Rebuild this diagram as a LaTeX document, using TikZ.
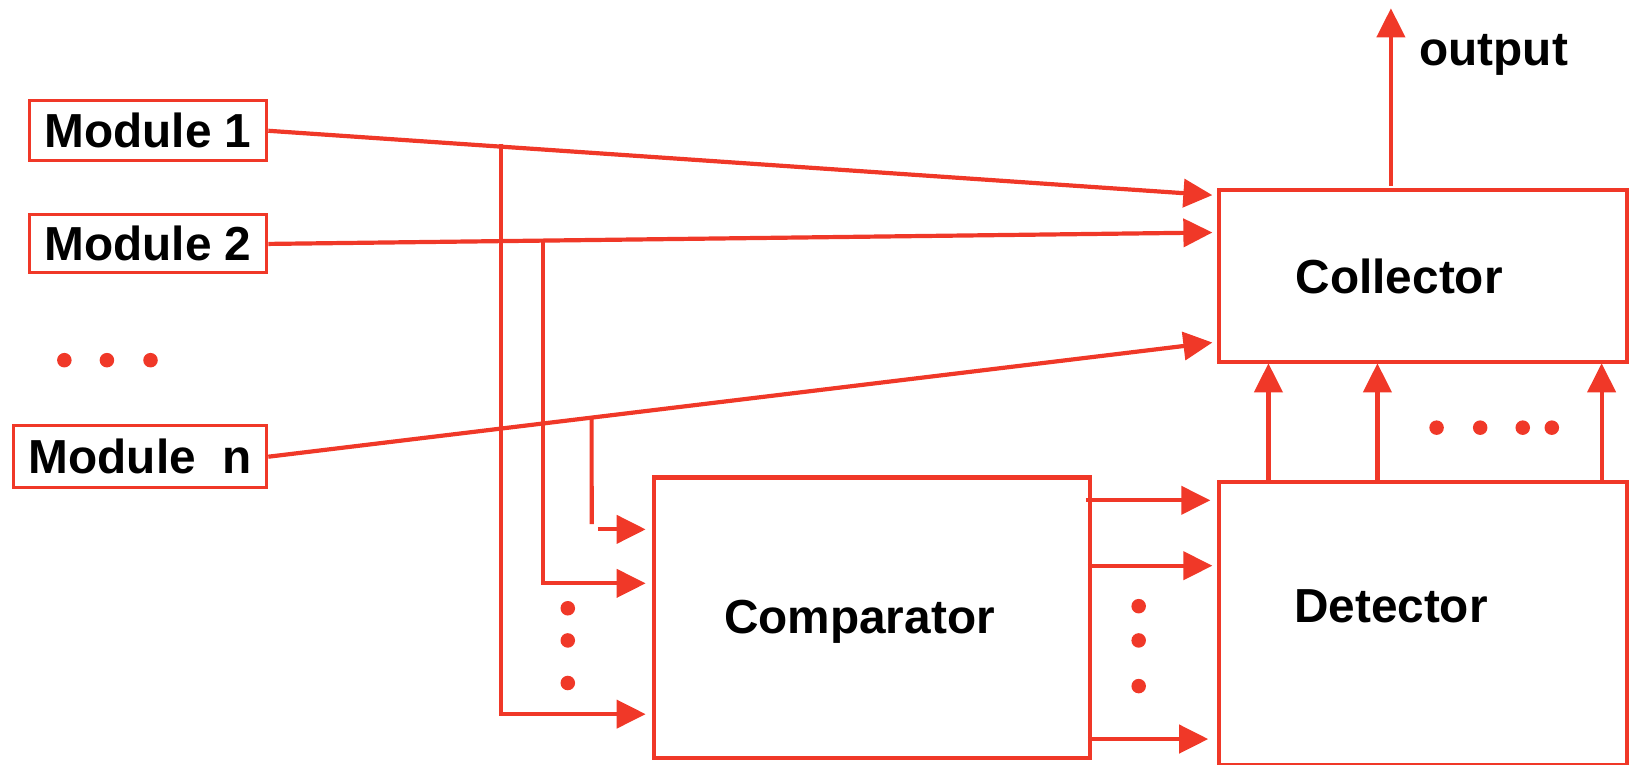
\documentclass[tikz,border=0pt]{standalone}
\usepackage{fontspec}
\setmainfont{Liberation Sans}
\usetikzlibrary{arrows.meta,calc}
\definecolor{rd}{RGB}{240,56,40}
\begin{document}
\begin{tikzpicture}[x=1.038pt,y=-1.038pt,
  every node/.append style={scale=1.038},
  box/.style={draw=rd, line width=4.2pt, inner sep=0pt, anchor=north west},
  modbox/.style={draw=rd, line width=3pt, inner sep=0pt, font=\bfseries\fontsize{46}{54}\selectfont},
  lbl/.style={inner sep=0pt, font=\bfseries\fontsize{46}{54}\selectfont, anchor=base},
  conn/.style={draw=rd, line width=4.2pt},
  arr/.style={conn, -{Triangle[length=29pt,width=28pt]}},
  bigdot/.style={fill=rd, circle, inner sep=0pt, minimum size=14pt}]
\useasboundingbox (0,0) rectangle (1571.3,737);

% module boxes
\node[modbox, minimum width=229pt, minimum height=58pt] (m1) at (142.5,126) {Module 1};
\node[modbox, minimum width=229pt, minimum height=56pt] (m2) at (142.5,235) {Module 2};
\node[modbox, minimum width=244pt, minimum height=60pt] (mn) at (135,440) {Module\ \ n};

% left dots
\node[bigdot] (ld1) at (62,347) {};
\node[bigdot] (ld2) at (103,347) {};
\node[bigdot] (ld3) at (145,347) {};

% main boxes
\node[box, minimum width=393pt, minimum height=166pt] (col) at (1172,181) {};
\node[box, minimum width=420pt, minimum height=270pt] (cmp) at (628,458) {};
\node[box, minimum width=393pt, minimum height=273pt] (det) at (1172,462) {};

% labels
\node[lbl] (coltxt) at (1348,283) {Collector};
\node[lbl] (cmptxt) at (828,610) {Comparator};
\node[lbl] (dettxt) at (1340,600) {Detector};
\node[lbl] (outtxt) at (1439,63) {output};

% collector inputs
\coordinate (c1) at (1168,188);
\coordinate (c2) at (1168,224);
\coordinate (c3) at (1168,330);
\coordinate (m1e) at (m1.east);
\coordinate (m2e) at (m2.east);
\coordinate (mne) at (mn.east);
\draw[arr] (m1e) -- (c1);
\draw[arr] (m2e) -- (c2);
\draw[arr] (mne) -- (c3);

% branch points
\coordinate (v1t) at (483,0);   \coordinate (v1b) at (483,760);
\coordinate (v2t) at (523,0);   \coordinate (v2b) at (523,760);
\coordinate (v3t) at (570,0);   \coordinate (v3b) at (570,760);
\coordinate (b1) at (intersection of m1e--c1 and v1t--v1b);
\coordinate (b2) at (intersection of m2e--c2 and v2t--v2b);
\coordinate (b3) at (intersection of mne--c3 and v3t--v3b);

% comparator inputs
\coordinate (ci1) at (622,510);
\coordinate (ci2) at (622,562);
\coordinate (ci3) at (622,688);
\coordinate (v3e) at (570,505);
\coordinate (h3s) at (576,510);
\draw[arr] ($(b1)+(0,-3)$) |- (ci3);
\draw[arr] (b2) |- (ci2);
\draw[conn] (b3) -- (v3e);
\draw[arr] (h3s) -- (ci1);

\node[bigdot] (id1) at (547,586) {};
\node[bigdot] (id2) at (547,617) {};
\node[bigdot] (id3) at (547,658) {};

% comparator -> detector
\coordinate (co1) at (1046,482); \coordinate (di1) at (1166,482);
\coordinate (co2) at (1048,545); \coordinate (di2) at (1168,545);
\coordinate (co3) at (1048,712); \coordinate (di3) at (1164,712);
\draw[arr] (co1) -- (di1);
\draw[arr] (co2) -- (di2);
\draw[arr] (co3) -- (di3);

\node[bigdot] (od1) at (1097,584) {};
\node[bigdot] (od2) at (1097,617) {};
\node[bigdot] (od3) at (1097,661) {};

% detector -> collector
\coordinate (du1) at (1222,462); \coordinate (cu1) at (1222,350);
\coordinate (du2) at (1327,462); \coordinate (cu2) at (1327,350);
\coordinate (du3) at (1543,462); \coordinate (cu3) at (1543,350);
\draw[arr] (du1) -- (cu1);
\draw[arr] (du2) -- (cu2);
\draw[arr] (du3) -- (cu3);

\node[bigdot] (rd1) at (1384,412) {};
\node[bigdot] (rd2) at (1426,412) {};
\node[bigdot] (rd3) at (1467,412) {};
\node[bigdot] (rd4) at (1495,412) {};

% output
\coordinate (ot) at (1340,179);
\coordinate (oe) at (1340,8);
\draw[arr] (ot) -- (oe);
\end{tikzpicture}
\end{document}
